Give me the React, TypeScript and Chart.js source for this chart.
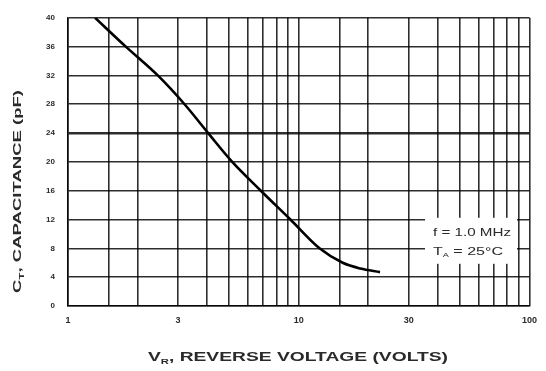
import React, { useEffect, useRef } from 'react';
import { Chart, registerables } from 'chart.js';

Chart.register(...registerables);

// ---- data ----
const voltage = [1.31, 1.78, 2.45, 3.2, 4.05, 5.15, 6.85, 9.2, 12.3, 15.5, 18.5, 22.5];
const capacitance = [40, 36, 32, 28, 24, 20, 16, 12, 8, 6.0, 5.2, 4.7];
const xGridValues = [1, 1.5, 2, 3, 4, 5, 6, 7, 8, 9, 10, 15, 20, 30, 40, 50, 60, 70, 80, 90, 100];
const xTickLabels = [1, 3, 10, 30, 100];
const yMin = 0;
const yMax = 40;
const yStep = 4;
const xTitleParts = [{ t: 'V' }, { t: 'R', sub: true }, { t: ', REVERSE VOLTAGE (VOLTS)' }];
const yTitleParts = [{ t: 'C' }, { t: 'T', sub: true }, { t: ', CAPACITANCE (pF)' }];
const noteLine1 = [{ t: 'f = 1.0 MHz' }];
const noteLine2 = [{ t: 'T' }, { t: 'A', sub: true }, { t: ' = 25°C' }];

const FAMILY = '"Liberation Sans", Arial, sans-serif';
const TEXT = '#2a2a2a';
const GRID = 'rgba(0,0,0,0.82)';

type Part = { t: string; sub?: boolean };

function drawParts(
  ctx: CanvasRenderingContext2D,
  parts: Part[],
  x: number,
  y: number,
  size: number,
  weight: string,
  targetWidth: number
) {
  const subSize = Math.round(size * 0.6);
  const fonts = parts.map((p) => `${weight} ${p.sub ? subSize : size}px ${FAMILY}`);
  let natural = 0;
  const widths = parts.map((p, i) => {
    ctx.font = fonts[i];
    const w = ctx.measureText(p.t).width;
    natural += w;
    return w;
  });
  const sx = targetWidth / natural;
  ctx.save();
  ctx.translate(x, y);
  ctx.scale(sx, 1);
  ctx.fillStyle = TEXT;
  ctx.textBaseline = 'middle';
  ctx.textAlign = 'left';
  let cx = 0;
  parts.forEach((p, i) => {
    ctx.font = fonts[i];
    ctx.fillText(p.t, cx, p.sub ? size * 0.35 : 0);
    cx += widths[i];
  });
  ctx.restore();
}

const decorPlugin = {
  id: 'decor',
  afterDatasetsDraw(chart: any) {
    const ctx: CanvasRenderingContext2D = chart.ctx;
    const area = chart.chartArea;
    // annotation box
    const bx = area.left + 357;
    const by = area.top + 200;
    ctx.save();
    ctx.fillStyle = '#ffffff';
    ctx.fillRect(bx, by, 92, 46);
    ctx.restore();
    drawParts(ctx, noteLine1, bx + 8, by + 15, 10.5, 'normal', 78);
    drawParts(ctx, noteLine2, bx + 8, by + 34, 10.5, 'normal', 70);
  },
  afterDraw(chart: any) {
    const ctx: CanvasRenderingContext2D = chart.ctx;
    // x title
    drawParts(ctx, xTitleParts, 148, 358, 12, 'bold', 300);
    // y title (rotated)
    ctx.save();
    ctx.translate(18, 293);
    ctx.rotate(-Math.PI / 2);
    drawParts(ctx, yTitleParts, 0, 0, 11, 'bold', 203);
    ctx.restore();
  },
};

export default function App() {
  const ref = useRef<HTMLCanvasElement | null>(null);

  useEffect(() => {
    document.body.style.margin = '0';
    const canvas = ref.current;
    if (!canvas) return;
    const points = voltage.map((v, i) => ({ x: v, y: capacitance[i] }));
    const chart = new Chart(canvas, {
      type: 'line',
      data: {
        datasets: [
          {
            data: points,
            borderColor: '#000',
            borderWidth: 2.6,
            pointRadius: 0,
            cubicInterpolationMode: 'monotone',
            fill: false,
          },
        ],
      },
      options: {
        animation: false,
        responsive: false,
        events: [],
        layout: { padding: { top: 12, right: 11, left: 0, bottom: 0 } },
        plugins: { legend: { display: false }, tooltip: { enabled: false } },
        scales: {
          x: {
            type: 'logarithmic',
            min: 1,
            max: 100,
            afterBuildTicks: (scale: any) => {
              scale.ticks = xGridValues.map((v) => ({ value: v }));
            },
            afterFit: (scale: any) => {
              scale.height = 65;
            },
            ticks: {
              autoSkip: false,
              maxRotation: 0,
              minRotation: 0,
              padding: 9,
              color: TEXT,
              font: { size: 9, weight: 'bold', family: FAMILY },
              callback: (value: any) => (xTickLabels.includes(Number(value)) ? String(value) : ''),
            },
            grid: { color: GRID, lineWidth: 1.6, drawTicks: false },
            border: { display: true, color: GRID, width: 1.6 },
          },
          y: {
            type: 'linear',
            min: yMin,
            max: yMax,
            afterFit: (scale: any) => {
              scale.width = 68;
            },
            ticks: {
              stepSize: yStep,
              padding: 13,
              color: TEXT,
              font: { size: 8, weight: 'bold', family: FAMILY },
            },
            grid: {
              color: GRID,
              drawTicks: false,
              lineWidth: (c: any) => (c.tick && c.tick.value === 24 ? 2.4 : 1.6),
            },
            border: { display: true, color: GRID, width: 1.6 },
          },
        },
      },
      plugins: [decorPlugin],
    } as any);
    return () => chart.destroy();
  }, []);

  return (
    <div style={{ position: 'absolute', left: 0, top: 0, width: 546, height: 371, background: '#fff' }}>
      <canvas ref={ref} width={546} height={371} style={{ display: 'block' }} />
    </div>
  );
}
